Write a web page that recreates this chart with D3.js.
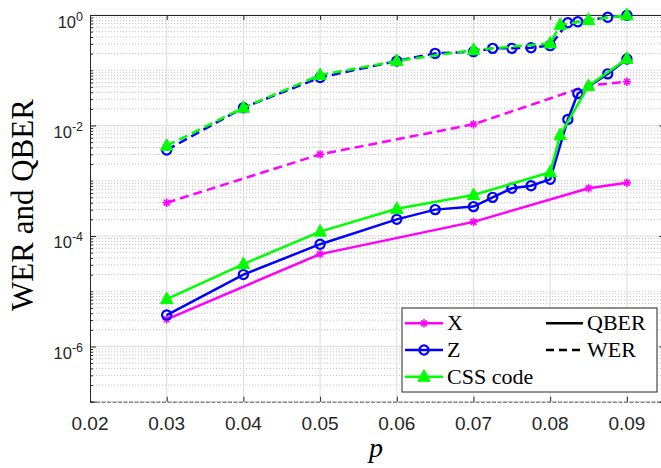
<!DOCTYPE html>
<html>
<head>
<meta charset="utf-8">
<script src="https://cdn.jsdelivr.net/npm/d3@7"></script>
<style>
  html, body { margin: 0; padding: 0; background: #fff; }
  svg { display: block; }
</style>
</head>
<body>
<div id="chart"></div>
<script>
// Error rates versus physical error probability p
const pX = [0.03, 0.05, 0.07, 0.085, 0.09];
const xQber = [3.1e-6, 4.7e-5, 1.8e-4, 7.3e-4, 9.2e-4];
const xWer = [4.0e-4, 3.0e-3, 1.05e-2, 5.3e-2, 6.2e-2];

const pZ = [0.03, 0.04, 0.05, 0.06, 0.065, 0.07, 0.0725, 0.075, 0.0775, 0.08, 0.0823, 0.0836, 0.0875, 0.09];
const zQber = [3.7e-6, 2.0e-5, 7.1e-5, 2.0e-4, 3.0e-4, 3.4e-4, 5.0e-4, 7.3e-4, 8.1e-4, 1.06e-3, 1.29e-2, 3.8e-2, 8.6e-2, 0.16];
const zWer = [3.6e-3, 0.021, 0.074, 0.147, 0.202, 0.217, 0.249, 0.249, 0.256, 0.279, 0.726, 0.757, 0.908, 0.99];

const pCss = [0.03, 0.04, 0.05, 0.06, 0.07, 0.08, 0.0813, 0.085, 0.09];
const cssQber = [7.2e-6, 3.1e-5, 1.2e-4, 3.1e-4, 5.5e-4, 1.42e-3, 6.7e-3, 0.052, 0.162];
const cssWer = [4.3e-3, 0.021, 0.082, 0.147, 0.232, 0.307, 0.659, 0.81, 0.99];

const xTicks = [0.02, 0.03, 0.04, 0.05, 0.06, 0.07, 0.08, 0.09];
const xTickLabels = ["0.02", "0.03", "0.04", "0.05", "0.06", "0.07", "0.08", "0.09"];
const yTickExps = [0, -2, -4, -6];

const seriesNames = ["X", "Z", "CSS code"];
const styleNames = ["QBER", "WER"];

const W = 661, H = 468;
const mLeft = 90, mTop = 15, mBottom = 401.7, mRight = 665.25;

const svg = d3.select("#chart").append("svg")
  .attr("width", W).attr("height", H)
  .attr("viewBox", `0 0 ${W} ${H}`);

const x = d3.scaleLinear().domain([0.02, 0.095]).range([mLeft, mRight]);
const y = d3.scaleLog().domain([1e-7, 1]).range([mBottom, mTop]);

const axisColor = "#262626";
const majorY = yTickExps.map(e => Math.pow(10, e));
const minorY = [];
for (let e = -7; e <= 0; e++) {
  for (let k = 1; k <= 9; k++) {
    const v = k * Math.pow(10, e);
    if (v > 1.0000001) continue;
    if (k === 1 && yTickExps.includes(e)) continue;
    minorY.push(v);
  }
}

// grid
const grid = svg.append("g");
grid.selectAll("line.minor").data(minorY).join("line")
  .attr("x1", mLeft).attr("x2", mRight)
  .attr("y1", d => y(d)).attr("y2", d => y(d))
  .attr("stroke", "#c4c4c4").attr("stroke-width", 1)
  .attr("stroke-dasharray", "1.2,1.8");
grid.selectAll("line.majory").data(majorY).join("line")
  .attr("x1", mLeft).attr("x2", mRight)
  .attr("y1", d => y(d)).attr("y2", d => y(d))
  .attr("stroke", "#dcdcdc").attr("stroke-width", 1);
grid.selectAll("line.majorx").data(xTicks.slice(1)).join("line")
  .attr("x1", d => x(d)).attr("x2", d => x(d))
  .attr("y1", mTop).attr("y2", mBottom)
  .attr("stroke", "#dcdcdc").attr("stroke-width", 1);

// axes with inward ticks
const axB = svg.append("g").attr("transform", `translate(0,${mBottom})`)
  .call(d3.axisBottom(x).tickValues(xTicks).tickSize(-5).tickFormat(""));
const axT = svg.append("g").attr("transform", `translate(0,${mTop})`)
  .call(d3.axisTop(x).tickValues(xTicks).tickSize(-5).tickFormat(""));
const axL = svg.append("g").attr("transform", `translate(${mLeft},0)`)
  .call(d3.axisLeft(y).tickValues(majorY).tickSize(-6).tickFormat(""));
const axLm = svg.append("g").attr("transform", `translate(${mLeft},0)`)
  .call(d3.axisLeft(y).tickValues(minorY).tickSize(-3).tickFormat(""));
const axR = svg.append("g").attr("transform", `translate(${mRight},0)`)
  .call(d3.axisRight(y).tickValues(majorY).tickSize(-6).tickFormat(""));
const axRm = svg.append("g").attr("transform", `translate(${mRight},0)`)
  .call(d3.axisRight(y).tickValues(minorY).tickSize(-3).tickFormat(""));
[axB, axT, axL, axLm, axR, axRm].forEach(g => {
  g.selectAll("path.domain").attr("stroke", axisColor).attr("stroke-width", 1);
  g.selectAll(".tick line").attr("stroke", axisColor).attr("stroke-width", 1);
});
axB.select("path.domain").attr("stroke", "#555").attr("stroke-dasharray", "4,1.5");
[axLm, axRm].forEach(g => g.select("path.domain").remove());

// tick labels
svg.append("g").selectAll("text").data(xTicks).join("text")
  .attr("x", d => x(d)).attr("y", 429.5)
  .attr("text-anchor", "middle")
  .attr("font-family", "'Liberation Sans', Arial, sans-serif")
  .attr("font-size", 19).attr("fill", axisColor)
  .text((d, i) => xTickLabels[i]);

const yl = svg.append("g").selectAll("text").data(yTickExps).join("text")
  .attr("x", 83).attr("y", d => y(Math.pow(10, d)) + 12.5)
  .attr("text-anchor", "end")
  .attr("font-family", "'Liberation Sans', Arial, sans-serif")
  .attr("font-size", 16.5).attr("fill", axisColor);
yl.append("tspan").text("10");
yl.append("tspan").attr("dy", -7).attr("font-size", 12.5).text(d => String(d));

// axis titles
svg.append("text")
  .attr("transform", "translate(33,205) rotate(-90)")
  .attr("text-anchor", "middle")
  .attr("font-family", "'Liberation Serif', 'Times New Roman', serif")
  .attr("font-size", 31).attr("fill", "#000")
  .text("WER and QBER");
svg.append("text")
  .attr("x", 376).attr("y", 457)
  .attr("text-anchor", "middle")
  .attr("font-family", "'Liberation Serif', 'Times New Roman', serif")
  .attr("font-style", "italic")
  .attr("font-size", 28).attr("fill", "#000")
  .text("p");

// data series
const clipId = "plotclip";
svg.append("defs").append("clipPath").attr("id", clipId)
  .append("rect").attr("x", mLeft).attr("y", mTop)
  .attr("width", mRight - mLeft).attr("height", mBottom - mTop);

const colors = { X: "#ff00ff", Z: "#0000ff", CSS: "#00ff00" };
const lineGen = d3.line().x(d => x(d[0])).y(d => y(d[1]));

function asterisk(s) {
  const a = s * 0.7;
  return `M${-s},0L${s},0M0,${-s}L0,${s}M${-a},${-a}L${a},${a}M${-a},${a}L${a},${-a}`;
}
const triPath = "M0,-7L6.2,4.6L-6.2,4.6Z";

function drawMarkers(g, pts, kind, color) {
  const sel = g.selectAll("g.m").data(pts).join("g")
    .attr("transform", d => `translate(${x(d[0])},${y(d[1])})`);
  if (kind === "star") {
    sel.append("path").attr("d", asterisk(4.2))
      .attr("stroke", color).attr("stroke-width", 1.6).attr("fill", "none");
  } else if (kind === "circle") {
    sel.append("circle").attr("r", 4.6)
      .attr("stroke", color).attr("stroke-width", 2.2).attr("fill", "none");
  } else {
    sel.append("path").attr("d", triPath)
      .attr("stroke", color).attr("stroke-width", 1).attr("fill", color);
  }
}

function drawSeries(ps, vals, color, dashed, kind) {
  const pts = ps.map((p, i) => [p, vals[i]]);
  const g = svg.append("g");
  g.append("path").datum(pts)
    .attr("d", lineGen)
    .attr("clip-path", `url(#${clipId})`)
    .attr("fill", "none").attr("stroke", color).attr("stroke-width", 2.5)
    .attr("stroke-dasharray", dashed ? "9,5" : null);
  drawMarkers(g, pts, kind, color);
}

drawSeries(pX, xQber, colors.X, false, "star");
drawSeries(pX, xWer, colors.X, true, "star");
drawSeries(pZ, zQber, colors.Z, false, "circle");
drawSeries(pZ, zWer, colors.Z, true, "circle");
drawSeries(pCss, cssQber, colors.CSS, false, "tri");
drawSeries(pCss, cssWer, colors.CSS, true, "tri");

// legend
const lg = svg.append("g");
lg.append("rect").attr("x", 402).attr("y", 308).attr("width", 255).attr("height", 84)
  .attr("fill", "#fff").attr("stroke", axisColor).attr("stroke-width", 1);
const rowY = [323.3, 350, 376.7];
const kinds = ["star", "circle", "tri"];
const cols = [colors.X, colors.Z, colors.CSS];
seriesNames.forEach((name, i) => {
  const gy = rowY[i];
  lg.append("line").attr("x1", 405).attr("x2", 443).attr("y1", gy).attr("y2", gy)
    .attr("stroke", cols[i]).attr("stroke-width", 2.5);
  const m = lg.append("g").attr("transform", `translate(424,${gy})`);
  if (kinds[i] === "star") {
    m.append("path").attr("d", asterisk(4.2)).attr("stroke", cols[i]).attr("stroke-width", 1.6);
  } else if (kinds[i] === "circle") {
    m.append("circle").attr("r", 4.6).attr("stroke", cols[i]).attr("stroke-width", 2.2).attr("fill", "none");
  } else {
    m.append("path").attr("d", triPath).attr("fill", cols[i]).attr("stroke", cols[i]);
  }
  lg.append("text").attr("x", 447).attr("y", gy + 7)
    .attr("font-family", "'Liberation Serif', 'Times New Roman', serif")
    .attr("font-size", 22).attr("fill", "#000").text(name);
});
styleNames.forEach((name, i) => {
  const gy = rowY[i];
  lg.append("line").attr("x1", 546).attr("x2", 583).attr("y1", gy).attr("y2", gy)
    .attr("stroke", "#000").attr("stroke-width", 2.5)
    .attr("stroke-dasharray", i === 1 ? "8,5" : null);
  lg.append("text").attr("x", 587).attr("y", gy + 7)
    .attr("font-family", "'Liberation Serif', 'Times New Roman', serif")
    .attr("font-size", 22).attr("fill", "#000").text(name);
});
</script>
</body>
</html>
